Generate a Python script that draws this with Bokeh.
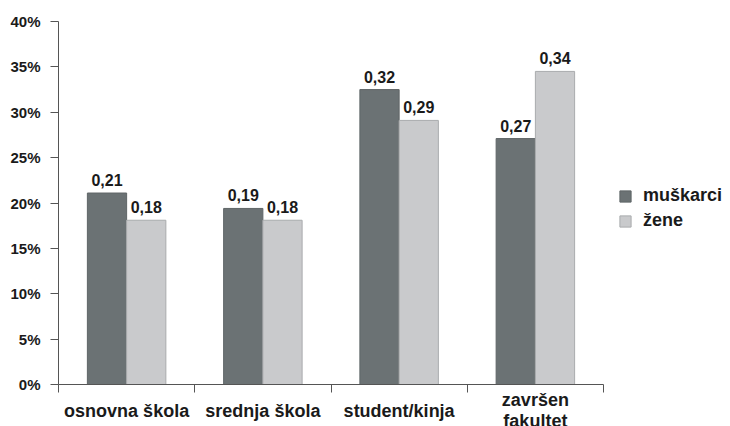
from bokeh.plotting import figure
from bokeh.models import (Range1d, LinearAxis, FixedTicker, ColumnDataSource,
                          Legend, LegendItem)
from bokeh.core.properties import value
from bokeh.embed import file_html
from bokeh.resources import INLINE

# ---- data ----
categories = ["osnovna škola", "srednja škola", "student/kinja", "završen\nfakultet"]
muskarci = [0.211, 0.194, 0.325, 0.271]
zene = [0.181, 0.181, 0.291, 0.345]
muskarci_labels = ["0,21", "0,19", "0,32", "0,27"]
zene_labels = ["0,18", "0,18", "0,29", "0,34"]
series_names = ["muškarci", "žene"]
y_ticks = [0, 0.05, 0.1, 0.15, 0.2, 0.25, 0.3, 0.35, 0.4]
y_tick_labels = ["0%", "5%", "10%", "15%", "20%", "25%", "30%", "35%", "40%"]

FONT = "Liberation Sans"
DARK = "#6b7274"
LIGHT = "#c9cacc"
TXT = "#1a1a1a"
AX = "#555555"

W, H = 730, 426
# pixel layout of the plotting area inside the canvas
PL, PR, PT, PB = 58, 603, 21, 384
n = len(categories)
ymax = 0.4
xs_per_px = n / (PR - PL)
ys_per_px = ymax / (PB - PT)

centers = [i + 0.5 for i in range(n)]
bw = 0.288
men_x = [c - bw / 2 for c in centers]
women_x = [c + bw / 2 for c in centers]

p = figure(width=W, height=H,
           x_range=Range1d(-PL * xs_per_px, n + (W - PR) * xs_per_px),
           y_range=Range1d(-(H - PB) * ys_per_px, ymax + PT * ys_per_px),
           output_backend="svg", toolbar_location=None,
           x_axis_type=None, y_axis_type=None,
           min_border=0)
p.outline_line_color = None
p.xgrid.visible = False
p.ygrid.visible = False

yaxis = LinearAxis(ticker=FixedTicker(ticks=y_ticks), fixed_location=0, bounds=(0, ymax),
                   major_label_overrides={t: l for t, l in zip(y_ticks, y_tick_labels)})
yaxis.axis_line_color = AX
yaxis.major_tick_line_color = AX
yaxis.major_tick_out = 8
yaxis.major_tick_in = 0
yaxis.minor_tick_line_color = None
yaxis.major_label_standoff = 10
yaxis.major_label_text_font = FONT
yaxis.major_label_text_font_style = "bold"
yaxis.major_label_text_font_size = "15px"
yaxis.major_label_text_color = TXT
p.add_layout(yaxis, "left")

xaxis = LinearAxis(ticker=FixedTicker(ticks=[], minor_ticks=list(range(n + 1))),
                   fixed_location=0, bounds=(0, n))
xaxis.axis_line_color = AX
xaxis.major_tick_line_color = None
xaxis.minor_tick_line_color = AX
xaxis.minor_tick_out = 8
xaxis.minor_tick_in = 0
xaxis.major_label_text_font_size = "0px"
p.add_layout(xaxis, "below")

r1 = p.vbar(x=men_x, top=muskarci, bottom=0, width=bw, fill_color=DARK, line_color="#5f6567", line_width=1)
r2 = p.vbar(x=women_x, top=zene, bottom=0, width=bw, fill_color=LIGHT, line_color="#a9abad", line_width=1)

for xs, ys, labs in ((men_x, muskarci, muskarci_labels), (women_x, zene, zene_labels)):
    p.text(x=xs, y=ys, text=labs, text_align="center", text_baseline="alphabetic",
           y_offset=-13, text_font=value(FONT), text_font_style="bold",
           text_font_size="16px", text_color=TXT)

cat_src = ColumnDataSource(dict(x=centers, y=[-0.029] * n, text=categories))
p.text(x="x", y="y", text="text", source=cat_src, text_align="center",
       text_baseline="middle", text_font=value(FONT), text_font_style="bold",
       text_font_size="18px", text_color=TXT, text_line_height=1.05)

legend = Legend(items=[LegendItem(label=series_names[0], renderers=[r1]),
                       LegendItem(label=series_names[1], renderers=[r2])],
                location=(618, 195), border_line_color=None, background_fill_alpha=0,
                padding=0, margin=0, glyph_width=14, glyph_height=14,
                label_text_font=FONT, label_text_font_style="bold",
                label_text_font_size="18px", label_text_color=TXT,
                label_standoff=11, spacing=4, label_height=19)
p.add_layout(legend)

open("out.html", "w").write(file_html(p, INLINE))
